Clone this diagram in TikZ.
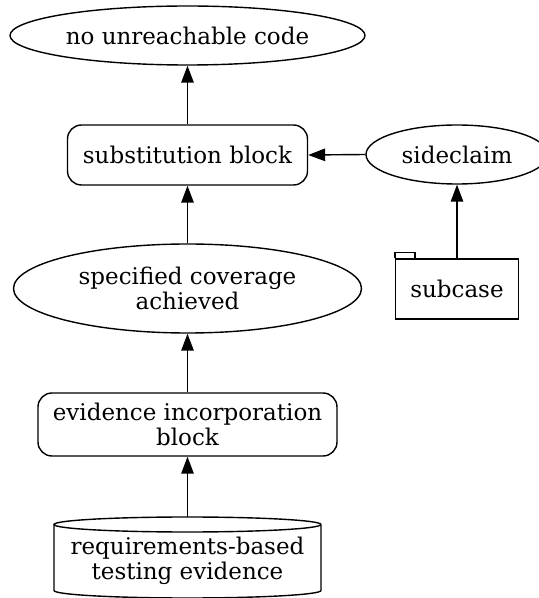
\documentclass[tikz,border=0pt]{standalone}
\usepackage{fontspec}
\setmainfont{DejaVu Serif}
\usetikzlibrary{shapes.geometric,arrows.meta}
\begin{document}
\begin{tikzpicture}[x=1pt,y=1pt,
  every node/.style={font=\fontsize{23}{25.5}\selectfont, align=center, inner sep=0pt},
  line/.style={line width=1.4pt},
  goal/.style={draw, line width=1.4pt, ellipse},
  block/.style={draw, line width=1.4pt, rectangle, rounded corners=14pt},
  pkg/.style={draw, line width=1.4pt, rectangle},
  link/.style={line width=1.4pt, -{Triangle[length=17pt,width=12.5pt]}}]
\useasboundingbox (0,0) rectangle (539,598);

% goals and blocks
\node[goal, minimum width=355pt, minimum height=59pt] (top) at (187.5,562.5) {no unreachable code};
\node[block, minimum width=240pt, minimum height=60pt] (subst) at (187.5,443) {substitution block};
\node[goal, minimum width=182pt, minimum height=59pt] (side) at (457,443.5) {sideclaim};
\node[goal, minimum width=348pt, minimum height=89pt] (cov) at (187.5,309.5) {specified coverage\\achieved};
\node[pkg, minimum width=123pt, minimum height=60pt] (subcase) at (457,309) {subcase};
\draw[line] (subcase.north west) -- ++(0,6) -- ++(20,0) -- ++(0,-6);
\node[block, minimum width=299pt, minimum height=63pt] (evb) at (187.5,173.5) {evidence incorporation\\block};

% evidence store
\draw[line] (54,73.5) -- (54,7.5) arc[start angle=180, end angle=360, x radius=133.5, y radius=7.5]
  -- (321,73.5) arc[start angle=0, end angle=360, x radius=133.5, y radius=7.5];
\coordinate (storetop) at (187.5,81);
\node (store) at (187.5,37) {requirements-based\\testing evidence};

% connectors
\draw[link] (subst.north) -- (top.south);
\draw[link] (cov.north) -- (subst.south);
\draw[link] (side.west) -- (subst.east);
\draw[link] (subcase.north) -- (side.south);
\draw[link] (evb.north) -- (cov.south);
\draw[link] (storetop) -- (evb.south);
\end{tikzpicture}
\end{document}
